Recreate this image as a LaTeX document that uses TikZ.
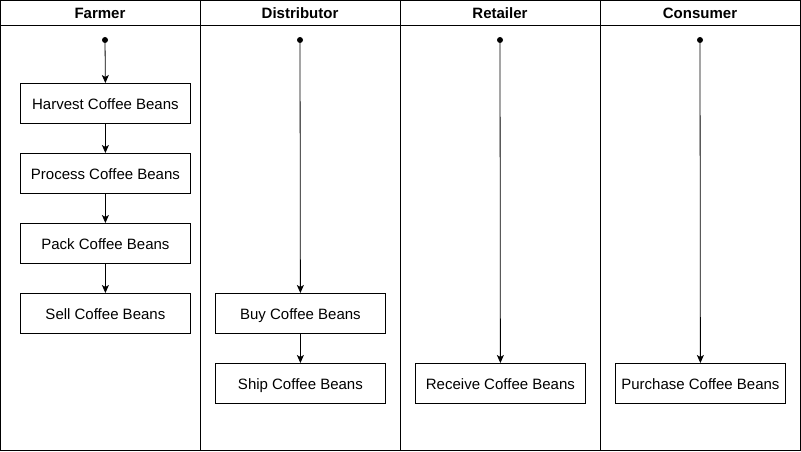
\documentclass[tikz,border=0pt]{standalone}
\usepackage{fontspec}
\setmainfont{Liberation Sans}
\usetikzlibrary{arrows.meta}
\begin{document}
\begin{tikzpicture}[x=1pt,y=-1pt,
  stepbox/.style={draw,line width=0.8pt,minimum width=170pt,minimum height=40pt,inner sep=0pt,text height=12.5pt,text depth=0pt,font=\fontsize{15}{17}\selectfont,anchor=north west},
  lbl/.style={font=\bfseries\fontsize{15}{17}\selectfont,text height=11.5pt,text depth=0pt,inner sep=0pt},
  startdot/.style={circle,fill=black,inner sep=0pt,minimum size=6pt},
  flow/.style={-{Stealth[length=8pt,width=7pt,inset=2pt]},line width=0.8pt}]
\useasboundingbox (0,0) rectangle (801,452);
\draw[line width=0.8pt] (0.5,0.5) rectangle (800.5,450.5);
\draw[line width=0.8pt] (0.5,25) -- (800.5,25);
\foreach \x in {200,400,600} \draw[line width=0.8pt] (\x,0.5) -- (\x,450.5);
\node[lbl] (hF) at (100,13) {Farmer};
\node[lbl] (hD) at (300,13) {Distributor};
\node[lbl] (hR) at (500,13) {Retailer};
\node[lbl] (hC) at (700,13) {Consumer};
% Farmer
\node[startdot] (sF) at (105,40) {};
\node[stepbox] (harvest) at (20,83) {Harvest Coffee Beans};
\node[stepbox] (process) at (20,153) {Process Coffee Beans};
\node[stepbox] (pack) at (20,223) {Pack Coffee Beans};
\node[stepbox] (sell) at (20,293) {Sell Coffee Beans};
\draw[flow] (sF) -- (harvest.north);
\draw[flow] (harvest) -- (process);
\draw[flow] (process) -- (pack);
\draw[flow] (pack) -- (sell);
% Distributor
\node[startdot] (sD) at (300,40) {};
\node[stepbox] (buy) at (215,293) {Buy Coffee Beans};
\node[stepbox] (ship) at (215,363) {Ship Coffee Beans};
\draw[flow] (sD) -- (buy.north);
\draw[flow] (buy) -- (ship);
% Retailer
\node[startdot] (sR) at (500,40) {};
\node[stepbox] (receive) at (415,363) {Receive Coffee Beans};
\draw[flow] (sR) -- (receive.north);
% Consumer
\node[startdot] (sC) at (700,40) {};
\node[stepbox] (purchase) at (615,363) {Purchase Coffee Beans};
\draw[flow] (sC) -- (purchase.north);
\end{tikzpicture}
\end{document}
